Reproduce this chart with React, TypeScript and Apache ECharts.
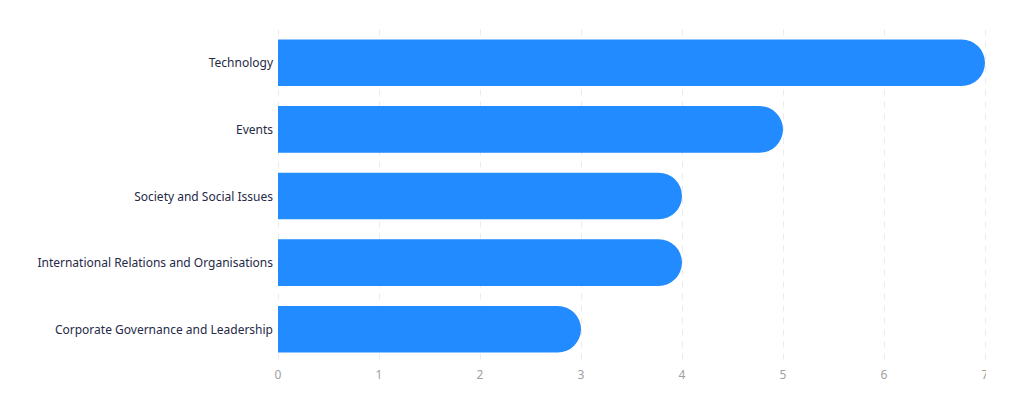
import { useEffect, useRef } from "react";
import * as echarts from "echarts";

const categories = [
  "Corporate Governance and Leadership",
  "International Relations and Organisations",
  "Society and Social Issues",
  "Events",
  "Technology",
];
const counts = [3, 4, 4, 5, 7];
const xTicks = [0, 1, 2, 3, 4, 5, 6, 7];

export default function App() {
  const chartRef = useRef<HTMLDivElement>(null);

  useEffect(() => {
    if (!chartRef.current) return;
    const chart = echarts.init(chartRef.current, null, { renderer: "svg" });
    chart.setOption({
      animation: false,
      backgroundColor: "#ffffff",
      grid: {
        left: 270,
        right: 1,
        top: 21.5,
        bottom: 44.5,
        containLabel: false,
        outerBoundsMode: "none",
      },
      xAxis: {
        type: "value",
        min: xTicks[0],
        max: xTicks[xTicks.length - 1],
        interval: 1,
        axisLine: { show: false },
        axisTick: { show: false },
        axisLabel: {
          color: "#a0a0a0",
          fontFamily: "Noto Sans",
          fontSize: 12,
          margin: 6,
        },
        splitLine: {
          show: true,
          lineStyle: { color: "#ebebeb", type: [6, 6], width: 1 },
        },
      },
      yAxis: {
        type: "category",
        data: categories,
        axisLine: { show: false },
        axisTick: { show: false },
        axisLabel: {
          color: "#262a47",
          fontFamily: "Noto Sans",
          fontSize: 12,
          margin: 5,
        },
        splitLine: { show: false },
      },
      series: [
        {
          type: "bar",
          data: counts,
          barCategoryGap: "30%",
          itemStyle: {
            color: "#228bff",
            borderRadius: [0, 24, 24, 0],
          },
        },
      ],
    });
    return () => {
      chart.dispose();
    };
  }, []);

  return <div ref={chartRef} style={{ width: 978, height: 399 }} />;
}
